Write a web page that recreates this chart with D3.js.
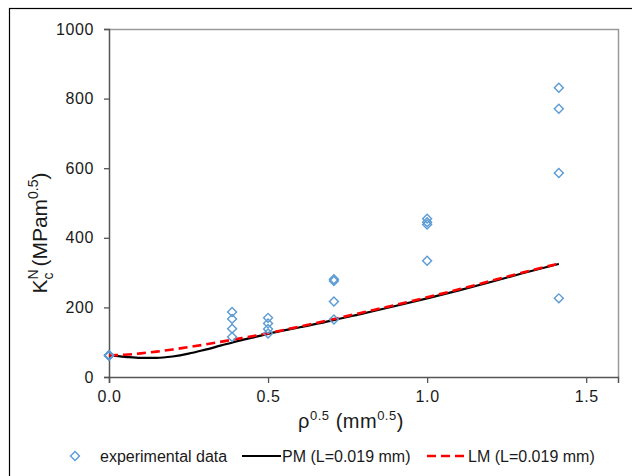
<!DOCTYPE html>
<html>
<head>
<meta charset="utf-8">
<script src="https://cdn.jsdelivr.net/npm/d3@7"></script>
<style>
  body { margin: 0; background: #fff; }
  text { font-family: Arial, "Liberation Sans", sans-serif; fill: #1a1a1a; }
</style>
</head>
<body>
<div id="chart"></div>
<script>
// experimental points (x = rho^0.5)
var expX = [0, 0, 0, 0,
  0.387, 0.387, 0.387, 0.387,
  0.5, 0.5, 0.5, 0.5,
  0.707, 0.707, 0.707, 0.707,
  1.0, 1.0, 1.0, 1.0,
  1.414, 1.414, 1.414, 1.414];
var expY = [62, 63, 61, 62,
  187, 167, 139, 115,
  170, 154, 138, 125,
  281, 276, 217, 165,
  455, 445, 438, 334,
  831, 771, 586, 226];

// model curves
var curveX = [0, 0.05, 0.1, 0.15, 0.2, 0.25, 0.3, 0.35, 0.4, 0.45, 0.5, 0.6, 0.7, 0.8, 0.9, 1.0, 1.1, 1.2, 1.3, 1.414];
var pmY = [62, 58, 55, 55, 59, 67, 78, 90, 102, 113, 124, 143, 162, 183, 204, 226, 249, 273, 298, 325];
var lmY = [62, 64, 68, 73, 79, 86, 93, 101, 109, 117, 126, 145, 165, 186, 207, 229, 252, 276, 300, 326];

var xTicks = [0, 0.5, 1.0, 1.5];
var yTicks = [0, 200, 400, 600, 800, 1000];

var W = 632, H = 476;
var plotLeft = 109, plotRight = 618, plotTop = 29, plotBottom = 377;

var svg = d3.select("#chart").append("svg")
  .attr("width", W).attr("height", H);

// outer frame
svg.append("rect")
  .attr("x", 9.5).attr("y", 8.5)
  .attr("width", 640).attr("height", 500)
  .attr("fill", "none").attr("stroke", "#000").attr("stroke-width", 1.2);

var x = d3.scaleLinear().domain([0, 1.6]).range([plotLeft, plotRight]);
var y = d3.scaleLinear().domain([0, 1000]).range([plotBottom, plotTop]);

// plot area top/right border
svg.append("path")
  .attr("d", "M" + plotLeft + "," + (plotTop + 0.5) + "H" + (plotRight + 0.5) + "V" + plotBottom)
  .attr("fill", "none").attr("stroke", "#9a9a9a").attr("stroke-width", 1.5);

// axes
var xAxis = svg.append("g")
  .attr("transform", "translate(0," + plotBottom + ")")
  .call(d3.axisBottom(x).tickValues(xTicks).tickSize(6).tickPadding(8)
    .tickFormat(d3.format(".1f")));
var yAxis = svg.append("g")
  .attr("transform", "translate(" + plotLeft + ",0)")
  .call(d3.axisLeft(y).tickValues(yTicks).tickSize(5).tickPadding(10)
    .tickFormat(d3.format("d")));

[xAxis, yAxis].forEach(function (g) {
  g.select(".domain").attr("stroke", "#555").attr("stroke-width", 1.5);
  g.selectAll(".tick line").attr("stroke", "#555").attr("stroke-width", 1.3);
  g.selectAll(".tick text")
    .style("font-size", "16px")
    .style("letter-spacing", "0.6px")
    .attr("fill", "#1a1a1a");
});

// curves
var line = d3.line()
  .x(function (d) { return x(d[0]); })
  .y(function (d) { return y(d[1]); })
  .curve(d3.curveMonotoneX);

svg.append("path")
  .datum(d3.zip(curveX, pmY))
  .attr("d", line)
  .attr("fill", "none").attr("stroke", "#000").attr("stroke-width", 2.2);

svg.append("path")
  .datum(d3.zip(curveX, lmY))
  .attr("d", line)
  .attr("fill", "none").attr("stroke", "#ff0000").attr("stroke-width", 2.6)
  .attr("stroke-dasharray", "9,5");

// experimental diamonds
var diamond = d3.symbol().type(d3.symbolSquare).size(40);
svg.append("g")
  .selectAll("path")
  .data(d3.zip(expX, expY))
  .enter()
  .append("path")
  .attr("d", diamond)
  .attr("transform", function (d) {
    return "translate(" + x(d[0]) + "," + y(d[1]) + ") rotate(45)";
  })
  .attr("fill", "none")
  .attr("stroke", "#5b9bd5")
  .attr("stroke-width", 1.4);

// axis titles
var yt = svg.append("text")
  .attr("transform", "translate(47,233) rotate(-90)")
  .attr("text-anchor", "middle")
  .style("font-size", "21px");
yt.append("tspan").text("K");
yt.append("tspan").attr("dy", -9).style("font-size", "14px").text("N");
yt.append("tspan").attr("dy", 15).attr("dx", -10).style("font-size", "14px").text("c");
yt.append("tspan").attr("dy", -6).text(" (MPam");
yt.append("tspan").attr("dy", -9).style("font-size", "14px").text("0.5");
yt.append("tspan").attr("dy", 9).text(")");

var xt = svg.append("text")
  .attr("x", 351).attr("y", 428)
  .attr("text-anchor", "middle")
  .style("font-size", "20px")
  .style("letter-spacing", "0.5px");
xt.append("tspan").text("ρ");
xt.append("tspan").attr("dy", -8).style("font-size", "13px").text("0.5");
xt.append("tspan").attr("dy", 8).text(" (mm");
xt.append("tspan").attr("dy", -8).style("font-size", "13px").text("0.5");
xt.append("tspan").attr("dy", 8).text(")");

// legend
var ly = 456;
svg.append("path")
  .attr("d", diamond)
  .attr("transform", "translate(75," + ly + ") rotate(45)")
  .attr("fill", "none").attr("stroke", "#5b9bd5").attr("stroke-width", 1.4);
svg.append("text").attr("x", 100).attr("y", ly + 6)
  .style("font-size", "16px").text("experimental data");
svg.append("line")
  .attr("x1", 242).attr("x2", 281).attr("y1", ly).attr("y2", ly)
  .attr("stroke", "#000").attr("stroke-width", 2.2);
svg.append("text").attr("x", 282).attr("y", ly + 6)
  .style("font-size", "16px").text("PM (L=0.019 mm)");
svg.append("line")
  .attr("x1", 427).attr("x2", 467).attr("y1", ly).attr("y2", ly)
  .attr("stroke", "#ff0000").attr("stroke-width", 2.6)
  .attr("stroke-dasharray", "9,5");
svg.append("text").attr("x", 468).attr("y", ly + 6)
  .style("font-size", "16px").text("LM (L=0.019 mm)");
</script>
</body>
</html>
